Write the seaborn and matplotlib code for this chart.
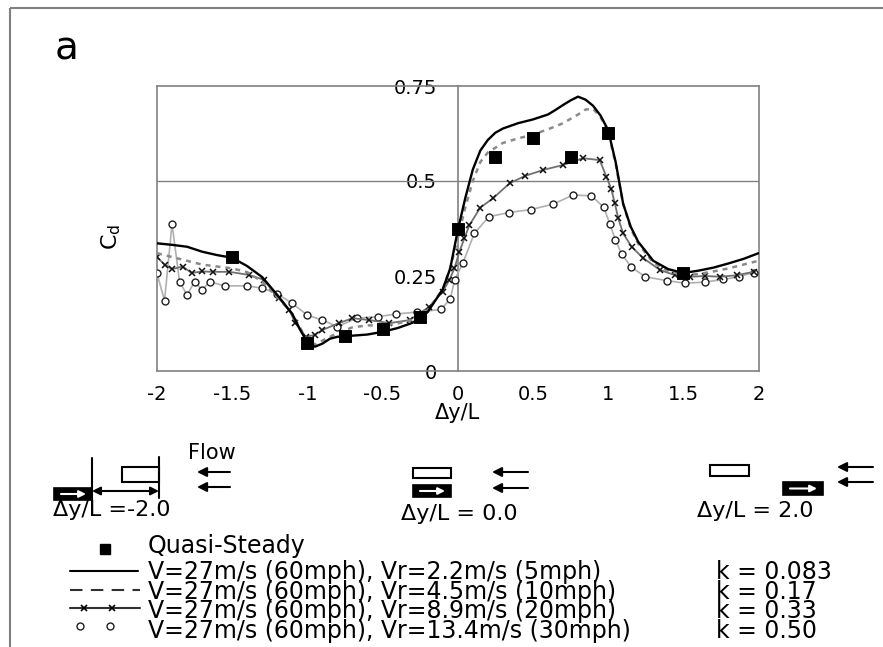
import matplotlib
matplotlib.use("Agg")
import matplotlib.pyplot as plt
from matplotlib.patches import Rectangle
import pandas as pd
import seaborn as sns

sns.set_theme(style="white")
plt.rcParams['font.family'] = ['DejaVu Sans']
plt.rcParams['axes.unicode_minus'] = False
plt.rcParams['text.color'] = 'black'
plt.rcParams['axes.labelcolor'] = 'black'

# ---- data: drag coefficient vs lateral offset ----
x_ticks = [-2, -1.5, -1, -0.5, 0, 0.5, 1, 1.5, 2]
x_tick_labels = ['-2', '-1.5', '-1', '-0.5', '0', '0.5', '1', '1.5', '2']
y_ticks = [0, 0.25, 0.5, 0.75]
y_tick_labels = ['0', '0.25', '0.5', '0.75']

qs_x = [-1.5, -1.0, -0.75, -0.5, -0.25, 0.0, 0.25, 0.5, 0.75, 1.0, 1.5]
qs_cd = [0.300, 0.073, 0.093, 0.110, 0.141, 0.375, 0.564, 0.612, 0.564, 0.627, 0.257]

k083_x = [-2.0, -1.9, -1.8, -1.7, -1.6, -1.5, -1.4, -1.3, -1.2, -1.1, -1.05, -1.0,
          -0.95, -0.9, -0.85, -0.8, -0.7, -0.6, -0.5, -0.4, -0.3, -0.2, -0.1, -0.05,
          0.0, 0.05, 0.1, 0.15, 0.2, 0.25, 0.3, 0.4, 0.5, 0.6, 0.65, 0.7, 0.75, 0.8,
          0.85, 0.9, 0.95, 1.0, 1.05, 1.1, 1.15, 1.2, 1.3, 1.4, 1.5, 1.6, 1.7, 1.8,
          1.9, 2.0]
k083_cd = [0.336, 0.332, 0.327, 0.314, 0.305, 0.298, 0.276, 0.247, 0.200, 0.150, 0.110, 0.075,
           0.064, 0.072, 0.085, 0.090, 0.093, 0.096, 0.103, 0.113, 0.127, 0.155, 0.215, 0.270,
           0.370, 0.455, 0.530, 0.580, 0.608, 0.627, 0.638, 0.652, 0.662, 0.675, 0.687, 0.700, 0.712, 0.722,
           0.714, 0.698, 0.672, 0.634, 0.550, 0.440, 0.380, 0.340, 0.290, 0.268, 0.258, 0.264, 0.272, 0.283,
           0.295, 0.310]

k17_x = [-2.0, -1.9, -1.8, -1.7, -1.6, -1.5, -1.4, -1.3, -1.2, -1.1, -1.0, -0.95, -0.9,
         -0.8, -0.7, -0.6, -0.5, -0.4, -0.3, -0.2, -0.1, -0.05, 0.0, 0.05, 0.1, 0.15, 0.2,
         0.3, 0.4, 0.5, 0.6, 0.7, 0.8, 0.85, 0.9, 0.95, 1.0, 1.05, 1.1, 1.15, 1.2, 1.3,
         1.4, 1.5, 1.6, 1.7, 1.8, 1.9, 2.0]
k17_cd = [0.310, 0.300, 0.290, 0.280, 0.275, 0.270, 0.260, 0.235, 0.195, 0.150, 0.080, 0.070, 0.080,
          0.100, 0.115, 0.120, 0.120, 0.125, 0.135, 0.160, 0.215, 0.270, 0.350, 0.430, 0.500, 0.550, 0.575,
          0.600, 0.612, 0.622, 0.636, 0.652, 0.675, 0.688, 0.690, 0.668, 0.630, 0.545, 0.440, 0.375, 0.335, 0.285,
          0.263, 0.252, 0.255, 0.262, 0.270, 0.280, 0.290]

k33_x = [-2.0, -1.95, -1.9, -1.83, -1.77, -1.7, -1.63, -1.52, -1.39, -1.29, -1.19, -1.12,
         -1.08, -1.01, -0.95, -0.9, -0.79, -0.7, -0.59, -0.455, -0.32, -0.19, -0.1, -0.055,
         -0.022, 0.011, 0.044, 0.078, 0.15, 0.233, 0.345, 0.445, 0.567, 0.70, 0.833, 0.944,
         0.989, 1.02, 1.045, 1.067, 1.1, 1.156, 1.233, 1.345, 1.445, 1.545, 1.645, 1.745,
         1.855, 1.967]
k33_cd = [0.300, 0.280, 0.268, 0.275, 0.258, 0.262, 0.261, 0.261, 0.253, 0.240, 0.191, 0.160,
          0.126, 0.090, 0.095, 0.108, 0.126, 0.139, 0.134, 0.126, 0.134, 0.169, 0.209, 0.240,
          0.270, 0.314, 0.349, 0.384, 0.430, 0.454, 0.494, 0.513, 0.529, 0.542, 0.560, 0.555,
          0.511, 0.480, 0.441, 0.402, 0.362, 0.327, 0.297, 0.266, 0.252, 0.248, 0.250, 0.248,
          0.252, 0.261]

k50_x = [-2.0, -1.95, -1.9, -1.85, -1.8, -1.75, -1.7, -1.65, -1.55, -1.4, -1.3, -1.2,
         -1.1, -1.0, -0.9, -0.8, -0.67, -0.53, -0.41, -0.27, -0.11, -0.05, -0.02, 0.035,
         0.11, 0.207, 0.34, 0.489, 0.633, 0.767, 0.889, 0.971, 1.011, 1.049, 1.089, 1.151,
         1.245, 1.389, 1.511, 1.644, 1.767, 1.867, 1.967]
k50_cd = [0.257, 0.185, 0.387, 0.235, 0.200, 0.235, 0.213, 0.235, 0.224, 0.224, 0.218, 0.203,
          0.178, 0.147, 0.134, 0.117, 0.139, 0.143, 0.150, 0.155, 0.162, 0.190, 0.240, 0.285,
          0.362, 0.406, 0.417, 0.425, 0.439, 0.463, 0.461, 0.431, 0.387, 0.345, 0.308, 0.275,
          0.248, 0.238, 0.231, 0.234, 0.241, 0.248, 0.259]

legend_labels = ['V=27m/s (60mph), Vr=2.2m/s (5mph)',
                 'V=27m/s (60mph), Vr=4.5m/s (10mph)',
                 'V=27m/s (60mph), Vr=8.9m/s (20mph)',
                 'V=27m/s (60mph), Vr=13.4m/s (30mph)']
k_labels = ['k = 0.083', 'k = 0.17', 'k = 0.33', 'k = 0.50']

GRAY = '#808080'
W, H = 883, 647

fig = plt.figure(figsize=(W / 100, H / 100), dpi=100)
fig.patch.set_facecolor('white')
ax = fig.add_axes([157 / W, 1 - 371 / H, 601.5 / W, 285 / H])
ax.set_facecolor('white')

# curves
sns.lineplot(x=k50_x, y=k50_cd, ax=ax, sort=False, estimator=None, color='#b0b0b0',
             lw=1.2, marker='o', markersize=5, markerfacecolor='white',
             markeredgecolor='#202020', markeredgewidth=1.0, zorder=3)
sns.lineplot(x=k33_x, y=k33_cd, ax=ax, sort=False, estimator=None, color='#707070',
             lw=1.3, marker='x', markersize=5, markeredgecolor='#101010',
             markeredgewidth=1.1, zorder=4)
sns.lineplot(x=k17_x, y=k17_cd, ax=ax, sort=False, estimator=None, color='#8a8a8a',
             lw=1.8, linestyle=(0, (2, 2)), zorder=5)
sns.lineplot(x=k083_x, y=k083_cd, ax=ax, sort=False, estimator=None, color='black',
             lw=1.7, zorder=6)
sns.scatterplot(x=qs_x, y=qs_cd, ax=ax, marker='s', s=70, color='black',
                edgecolor='black', zorder=7)

ax.axhline(0.5, color=GRAY, lw=1, zorder=1)
ax.set_xlim(-2, 2)
ax.set_ylim(0, 0.75)

for side in ['top', 'right', 'bottom', 'left']:
    ax.spines[side].set_color(GRAY)
    ax.spines[side].set_linewidth(1.2)
ax.spines['left'].set_position(('data', 0))
ax.axvline(-2, color=GRAY, lw=1.2, clip_on=False, zorder=1)

ax.set_xticks(x_ticks)
ax.set_xticklabels(x_tick_labels)
ax.set_yticks(y_ticks)
ax.set_yticklabels(y_tick_labels)
ax.tick_params(axis='both', direction='out', length=6, width=1.2, color=GRAY,
               labelsize=14, labelcolor='black')
ax.tick_params(axis='x', pad=4)
ax.tick_params(axis='y', pad=9)

ax.set_xlabel('\u0394y/L', fontsize=15)
ax.xaxis.set_label_coords(0.5, -(403 - 371) / 285)
ax.set_ylabel('C$_\\mathrm{d}$', fontsize=16)
ax.yaxis.set_label_coords((123 - 157) / 601.5, 0.47)

# ---- overlay in pixel coordinates: panel letter, sketches, legend ----
ov = fig.add_axes([0, 0, 1, 1])
ov.set_xlim(0, W)
ov.set_ylim(H, 0)
ov.axis('off')

ov.plot([10, 10], [8, H], color=GRAY, lw=1.5, solid_capstyle='butt')
ov.plot([10, W], [8, 8], color=GRAY, lw=1.5, solid_capstyle='butt')
ov.text(67, 49, 'a', fontsize=28, ha='center', va='center')


def arrow(x0, x1, y, color='black', style='-|>', lw=1.5, scale=12):
    ov.annotate('', xy=(x1, y), xytext=(x0, y),
                arrowprops=dict(arrowstyle=style, color=color, lw=lw,
                                mutation_scale=scale, shrinkA=0, shrinkB=0))


def body(x, y, w, h, filled):
    if filled:
        ov.add_patch(Rectangle((x, y), w, h, facecolor='black', edgecolor='black', lw=1.2))
        arrow(x + 7, x + w - 6, y + h / 2, color='white', lw=1.5, scale=10)
    else:
        ov.add_patch(Rectangle((x, y), w, h, facecolor='white', edgecolor='black', lw=1.5))


# offset -2.0
body(54, 488, 38, 12, True)
ov.plot([92, 92], [458, 500], color='black', lw=1.5)
body(122, 467, 37, 15, False)
ov.plot([159, 159], [457, 498], color='black', lw=1.5)
arrow(92, 159, 491, style='<|-|>', scale=12)
arrow(230, 197, 472, scale=14)
arrow(230, 197, 487, scale=14)
ov.text(212, 453, 'Flow', fontsize=15, ha='center', va='center')
ov.text(53, 510, '\u0394y/L =-2.0', fontsize=16, ha='left', va='center')

# offset 0.0
body(413, 468, 38, 10, False)
body(413, 485, 38, 12, True)
arrow(528, 492, 472, scale=14)
arrow(528, 492, 488, scale=14)
ov.text(401, 514, '\u0394y/L = 0.0', fontsize=16, ha='left', va='center')

# offset 2.0
body(710, 465, 39, 11, False)
body(783, 482, 40, 13, True)
arrow(873, 837, 467, scale=14)
arrow(873, 837, 482, scale=14)
ov.text(697, 511, '\u0394y/L = 2.0', fontsize=16, ha='left', va='center')

# legend: keys
rows = [571, 589.5, 608, 626]
ov.plot([105], [549], marker='s', color='black', markersize=7, linestyle='none')
ov.plot([70, 138], [rows[0]] * 2, color='black', lw=1.5)
ov.plot([70, 140], [rows[1]] * 2, color='#303030', lw=1.5, linestyle=(0, (6, 4)))
ov.plot([70, 140], [rows[2]] * 2, color='#303030', lw=1.5)
ov.plot([84, 112], [rows[2]] * 2, color='black', marker='x', markersize=5,
        markeredgewidth=1.2, linestyle='none')
ov.plot([80, 110], [rows[3]] * 2, marker='o', markersize=5, markerfacecolor='white',
        markeredgecolor='#202020', markeredgewidth=1.0, linestyle='none')

# legend: labels as tight text blocks
fs = 17
ls = 0.77
ov.text(148, 546, 'Quasi-Steady', fontsize=fs, ha='left', va='center')
ov.text(148, rows[0] - 11, '\n'.join(legend_labels), fontsize=fs, ha='left', va='top',
        linespacing=ls)
ov.text(716, rows[0] - 11, '\n'.join(k_labels), fontsize=fs, ha='left', va='top',
        linespacing=ls)

fig.savefig('out.png', dpi=100)
